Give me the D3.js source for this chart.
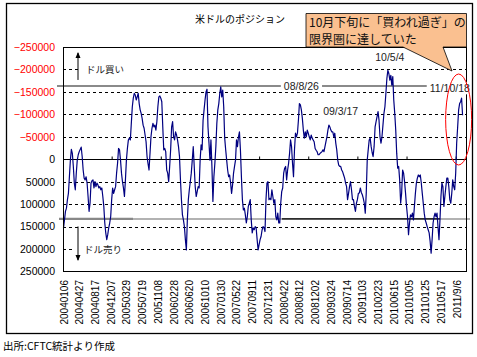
<!DOCTYPE html>
<html><head><meta charset="utf-8">
<script src="https://cdn.jsdelivr.net/npm/d3@7"></script>
<style>body{margin:0;background:#fff}svg{display:block}</style>
</head><body>
<script>
// weekly categories: tick labels every 16 weeks
const tickLabels = ["20040106","20040427","20040817","20041207","20050329","20050719","20051108","20060228","20060620","20061010","20070130","20070522","20070911","20071231","20080422","20080812","20081202","20090324","20090714","20091103","20100223","20100615","20101005","20110125","20110517","2011/9/6"];
const tickEvery = 16;
const axisCategoryCount = 411;

// net position (weekly)
const positions = [
153000,135000,116000,109000,90000,76000,39000,2000,-22000,-13000,16000,53000,68000,31000,2000,-10000,-17000,-22000,-27000,-6000,24000,42000,46000,39000,53000,83000,116000,98000,53000,48000,
46000,64000,50000,61000,53000,57000,64000,61000,68000,64000,83000,105000,142000,164000,179000,168000,153000,142000,128000,90000,64000,76000,68000,61000,31000,9000,-24000,-21000,2000,31000,50000,64000,83000,46000,2000,-24000,-43000,-47000,-43000,-80000,-117000,-136000,-147000,-143000,-132000,-139000,-147000,-124000,-110000,-102000,-91000,-76000,-69000,-54000,-39000,-6000,10000,
24000,-13000,-50000,-69000,-80000,-72000,-76000,-65000,-84000,-117000,-139000,-141000,-136000,-128000,-72000,-21000,-24000,-17000,24000,31000,50000,16000,-21000,-72000,-84000,-50000,-43000,-61000,-54000,-43000,-28000,-6000,46000,90000,124000,135000,150000,179000,202000,135000,90000,68000,50000,31000,2000,-28000,16000,61000,83000,72000,61000,64000,2000,-32000,-21000,-87000,-110000,
-132000,-150000,-156000,-72000,-36000,2000,-43000,16000,94000,39000,9000,-28000,-80000,-110000,-124000,-147000,-161000,-139000,-154000,-117000,-47000,-21000,2000,24000,39000,35000,53000,76000,57000,31000,16000,2000,-43000,-28000,-50000,-61000,-21000,39000,90000,113000,109000,124000,142000,128000,105000,98000,90000,135000,164000,153000,157000,150000,153000,179000,202000,190000,179000,
172000,158000,150000,152000,161000,90000,53000,50000,90000,87000,90000,68000,83000,98000,90000,128000,135000,120000,142000,142000,98000,72000,64000,31000,20000,16000,46000,24000,9000,-13000,-43000,-28000,9000,39000,-21000,-58000,-50000,-58000,-87000,-124000,-121000,-110000,-91000,-65000,-47000,-61000,-50000,-65000,-58000,-50000,-43000,-54000,-47000,-43000,-39000,-24000,-20000,
-17000,-10000,-10000,-13000,-15000,-17000,-21000,-17000,-28000,-39000,-50000,-65000,-76000,-72000,-65000,-61000,-61000,-50000,-58000,-36000,-21000,2000,13000,16000,16000,24000,28000,35000,42000,53000,61000,90000,76000,61000,50000,68000,90000,90000,105000,116000,98000,90000,76000,75000,64000,74000,79000,87000,98000,120000,76000,2000,-21000,-43000,-47000,-28000,-15000,
-6000,-28000,-72000,-84000,-95000,-106000,-87000,-50000,-36000,-50000,-76000,-102000,-117000,-147000,-180000,-198000,-191000,-176000,-187000,-165000,-184000,-132000,-102000,-65000,-13000,20000,16000,46000,98000,76000,24000,31000,50000,76000,105000,128000,168000,142000,124000,128000,120000,135000,105000,76000,53000,42000,35000,39000,35000,53000,76000,98000,120000,135000,142000,150000,157000,
164000,183000,209000,179000,142000,128000,120000,128000,120000,150000,179000,135000,83000,53000,61000,105000,83000,61000,42000,42000,61000,90000,98000,76000,46000,61000,68000,31000,-36000,-72000,-110000,-124000,-128000,-136000,-98000
];

const yTickValues = [-250000,-200000,-150000,-100000,-50000,0,50000,100000,150000,200000,250000];
const gridValues = [-200000,-150000,-100000,-50000,50000,100000,150000,200000];
const refLevels = [-163000, 133000];
const notes = [
  {text:"08/8/26", i:242, v:-163000},
  {text:"09/3/17", i:282, v:-107000},
  {text:"10/5/4",  i:332, v:-228000},
  {text:"11/10/18",i:393, v:-158000}
];
const titleText = "米ドルのポジション";
const calloutLines = ["10月下旬に「買われ過ぎ」の","限界圏に達していた"];
const sourceText = "出所:CFTC統計より作成";
const buyLabel = "ドル買い", sellLabel = "ドル売り";
const highlight = {i:402, v:-88500};

const W = 477, H = 357;
const P = {left:63, right:467, top:47, bottom:271.5};
const NUM = "'Liberation Sans', Arial, sans-serif";
const JP = "'Noto Sans CJK JP', sans-serif";

const svg = d3.select("body").append("svg").attr("width", W).attr("height", H);
svg.append("rect").attr("width", W).attr("height", H).attr("fill", "#fff");

const x = d3.scaleLinear().domain([0, axisCategoryCount - 1]).range([P.left + 0.5, P.right - 0.5]);
const y = d3.scaleLinear().domain([-250000, 250000]).range([P.top, P.bottom]);

// dashed grid
svg.append("g").selectAll("line").data(gridValues).join("line")
  .attr("x1", P.left).attr("x2", P.right)
  .attr("y1", d => Math.round(y(d)) + 0.5).attr("y2", d => Math.round(y(d)) + 0.5)
  .attr("stroke", "#000").attr("stroke-width", 1).attr("stroke-dasharray", "3,3");

// reference (gray) lines
const yr0 = y(refLevels[0]), yr1 = y(refLevels[1]);
svg.append("line").attr("x1", 57).attr("x2", 473).attr("y1", yr0).attr("y2", yr0)
  .attr("stroke", "#8a8a8a").attr("stroke-width", 2);
svg.append("line").attr("x1", 59).attr("x2", 470).attr("y1", yr1).attr("y2", yr1)
  .attr("stroke", "#999").attr("stroke-width", 1.6);
svg.append("line").attr("x1", 59).attr("x2", 133).attr("y1", yr1).attr("y2", yr1)
  .attr("stroke", "#888").attr("stroke-width", 2.2);
svg.append("line").attr("x1", 282).attr("x2", 440).attr("y1", yr1).attr("y2", yr1)
  .attr("stroke", "#000").attr("stroke-width", 1.2);

// zero line + category tick marks
const y0 = Math.round(y(0)) + 0.5;
svg.append("line").attr("x1", P.left).attr("x2", P.right).attr("y1", y0).attr("y2", y0)
  .attr("stroke", "#000").attr("stroke-width", 1);
svg.append("g").selectAll("line").data(d3.range(50, axisCategoryCount, 50)).join("line")
  .attr("x1", d => x(d - 0.5)).attr("x2", d => x(d - 0.5))
  .attr("y1", y0 - 3).attr("y2", y0).attr("stroke", "#000").attr("stroke-width", 1);

// buy / sell labels with arrows
function sideLabel(txt, v, bx0, bx1, tx, arrowFrom, arrowTo) {
  const yy = y(v);
  svg.append("rect").attr("x", bx0).attr("y", yy - 7).attr("width", bx1 - bx0).attr("height", 14).attr("fill", "#fff");
  svg.append("text").attr("x", tx).attr("y", yy).attr("dominant-baseline", "central")
    .attr("font-family", JP).attr("font-size", 9.5).attr("fill", "#222").text(txt);
  svg.append("line").attr("x1", 78).attr("x2", 78).attr("y1", arrowFrom).attr("y2", arrowTo)
    .attr("stroke", "#000").attr("stroke-width", 1);
  const dir = arrowTo < arrowFrom ? -1 : 1;
  svg.append("path").attr("d", `M78,${arrowTo + dir*1} L75.5,${arrowTo - dir*5} L80.5,${arrowTo - dir*5} Z`).attr("fill", "#000");
}
sideLabel(buyLabel, -200000, 80, 138, 86, y(-200000) + 10.5, 53);
sideLabel(sellLabel, 200000, 75, 128, 84, y(133000) + 7.5, 260);

// data line
const line = d3.line().x((d, i) => x(i)).y(d => y(d));
svg.append("path").datum(positions).attr("d", line)
  .attr("fill", "none").attr("stroke", "#000080").attr("stroke-width", 1.2).attr("stroke-linejoin", "round");

// plot border
svg.append("rect").attr("x", P.left + 0.5).attr("y", P.top + 0.5)
  .attr("width", P.right - P.left - 1).attr("height", P.bottom - P.top - 0.5)
  .attr("fill", "none").attr("stroke", "#000").attr("stroke-width", 1);

// y axis
const yAxis = svg.append("g").attr("transform", `translate(${P.left},0)`)
  .call(d3.axisLeft(y).tickValues(yTickValues).tickSize(0).tickPadding(8).tickFormat(d3.format("d")));
yAxis.select(".domain").remove();
yAxis.selectAll("text").attr("font-family", NUM).attr("font-size", 10.5)
  .attr("fill", d => d < 0 ? "#ff0000" : "#000");

// x axis labels (rotated)
const xAxis = svg.append("g").attr("transform", `translate(0,${P.bottom})`)
  .call(d3.axisBottom(x).tickValues(tickLabels.map((t, k) => k * tickEvery)).tickSize(0)
    .tickFormat((d) => tickLabels[d / tickEvery]));
xAxis.select(".domain").remove();
xAxis.selectAll("text").attr("font-family", NUM).attr("font-size", 10).attr("fill", "#000")
  .attr("text-anchor", "end").attr("y", 0).attr("dy", "0.35em")
  .attr("transform", "translate(0,8.5) rotate(-90)");

// annotation labels
notes.forEach(n => {
  const g = svg.append("g");
  const t = g.append("text").attr("x", x(n.i)).attr("y", y(n.v)).attr("text-anchor", "middle")
    .attr("dominant-baseline", "central").attr("font-family", NUM).attr("font-size", 10.5)
    .attr("fill", "#222").text(n.text);
  const b = t.node().getBBox();
  g.insert("rect", "text").attr("x", b.x - 3).attr("y", b.y).attr("width", b.width + 6).attr("height", b.height).attr("fill", "#fff");
});

// highlight ellipse
svg.append("ellipse").attr("cx", x(highlight.i)).attr("cy", y(highlight.v)).attr("rx", 13).attr("ry", 45.5)
  .attr("fill", "none").attr("stroke", "#ff0000").attr("stroke-width", 1);

// callout
svg.append("path").attr("d", "M306,13.5 H466.5 V47 H443 L452,71 L403,47 H306 Z")
  .attr("fill", "#fac090").attr("stroke", "#000").attr("stroke-width", 0.8);
calloutLines.forEach((t, k) => {
  svg.append("text").attr("x", 309).attr("y", 21.5 + k * 17).attr("dominant-baseline", "central")
    .attr("font-family", JP).attr("font-size", 12).attr("fill", "#111").text(t);
});

// title, source
svg.append("text").attr("x", 240).attr("y", 18).attr("text-anchor", "middle").attr("dominant-baseline", "central")
  .attr("font-family", JP).attr("font-size", 10).attr("fill", "#000").text(titleText);
svg.append("text").attr("x", 3).attr("y", 345).attr("dominant-baseline", "central")
  .attr("font-family", JP).attr("font-size", 10.5).attr("fill", "#000").text(sourceText);

// outer frame
svg.append("rect").attr("x", 6.5).attr("y", 3.5).attr("width", 466).attr("height", 330)
  .attr("fill", "none").attr("stroke", "#000").attr("stroke-width", 1.3);
</script>
</body></html>
